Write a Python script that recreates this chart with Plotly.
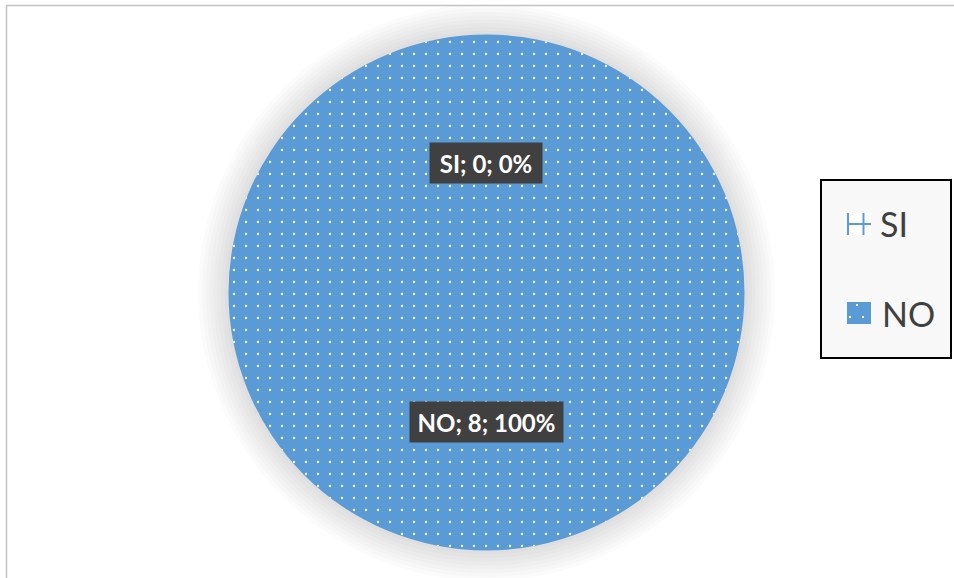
import plotly.graph_objects as go

# Survey answers
labels = ["SI", "NO"]
values = [0, 8]
slice_color = "#5B9BD5"

W, H = 954, 578


def px(x):
    return x / W


def py(y):
    return 1 - y / H


total = sum(values)
pcts = [round(100 * v / total) for v in values]

# Pie geometry (pixels)
cx, cy, r = 486.5, 292.5, 258

fig = go.Figure()
fig.add_trace(go.Pie(
    labels=labels,
    values=values,
    sort=False,
    direction="clockwise",
    textinfo="none",
    showlegend=False,
    marker=dict(
        colors=[slice_color, slice_color],
        line=dict(width=0),
        pattern=dict(shape=".", fillmode="replace", bgcolor=slice_color,
                     fgcolor="white", size=12, solidity=0.028),
    ),
    domain=dict(x=[px(cx - r), px(cx + r)], y=[py(cy + r), py(cy - r)]),
))

shapes = []

# soft glow around the pie
for k in range(8, 0, -1):
    rr = r + 3.8 * k
    shapes.append(dict(
        type="circle", xref="paper", yref="paper", layer="below",
        x0=px(cx - rr), x1=px(cx + rr), y0=py(cy + rr), y1=py(cy - rr),
        fillcolor="rgba(0,0,0,0.014)", line=dict(width=0),
    ))

# chart area border (left and top edges)
shapes.append(dict(type="line", xref="paper", yref="paper",
                   x0=px(6.5), x1=px(6.5), y0=py(5), y1=py(578),
                   line=dict(color="#c3c3c3", width=1.5)))
shapes.append(dict(type="line", xref="paper", yref="paper",
                   x0=px(6), x1=px(954), y0=py(5.5), y1=py(5.5),
                   line=dict(color="#c3c3c3", width=1.5)))

# legend box
shapes.append(dict(type="rect", xref="paper", yref="paper",
                   x0=px(821), x1=px(951), y0=py(358), y1=py(180),
                   fillcolor="#f8f8f8", line=dict(color="black", width=2)))

# legend symbol for SI (empty slice)
shapes.append(dict(type="rect", xref="paper", yref="paper",
                   x0=px(847), x1=px(871), y0=py(235), y1=py(213),
                   fillcolor="white", line=dict(width=0)))
for x in (848, 863.5):
    shapes.append(dict(type="line", xref="paper", yref="paper",
                       x0=px(x), x1=px(x), y0=py(235), y1=py(213),
                       line=dict(color=slice_color, width=2)))
shapes.append(dict(type="line", xref="paper", yref="paper",
                   x0=px(847), x1=px(871), y0=py(224), y1=py(224),
                   line=dict(color=slice_color, width=2)))

# legend symbol for NO
shapes.append(dict(type="rect", xref="paper", yref="paper",
                   x0=px(847), x1=px(871), y0=py(324), y1=py(302),
                   fillcolor=slice_color, line=dict(width=0)))
for dx, dy in ((850, 317), (863, 317), (857, 305)):
    shapes.append(dict(type="rect", xref="paper", yref="paper",
                       x0=px(dx - 1), x1=px(dx + 1), y0=py(dy + 1), y1=py(dy - 1),
                       fillcolor="white", line=dict(width=0)))

annotations = []

# data labels
label_pos = [(486, 163, 104), (486.5, 422, 145)]
for lab, v, p, (lx, ly, w) in zip(labels, values, pcts, label_pos):
    annotations.append(dict(
        xref="paper", yref="paper", x=px(lx), y=py(ly),
        xanchor="center", yanchor="middle", showarrow=False,
        text=f"<b>{lab}; {v}; {p}%</b>",
        font=dict(family="Lato", size=24, color="white"),
        bgcolor="#404040", borderpad=4, width=w, height=32,
    ))

# legend entries
for lab, (tx, ty) in zip(labels, [(878, 223), (880, 313)]):
    annotations.append(dict(
        xref="paper", yref="paper", x=px(tx), y=py(ty),
        xanchor="left", yanchor="middle", showarrow=False,
        text=lab, font=dict(family="Lato", size=34, color="#404040"),
    ))

fig.update_layout(
    width=W, height=H,
    margin=dict(l=0, r=0, t=0, b=0),
    paper_bgcolor="white",
    plot_bgcolor="white",
    shapes=shapes,
    annotations=annotations,
    showlegend=False,
)

fig.write_html("out.html")
